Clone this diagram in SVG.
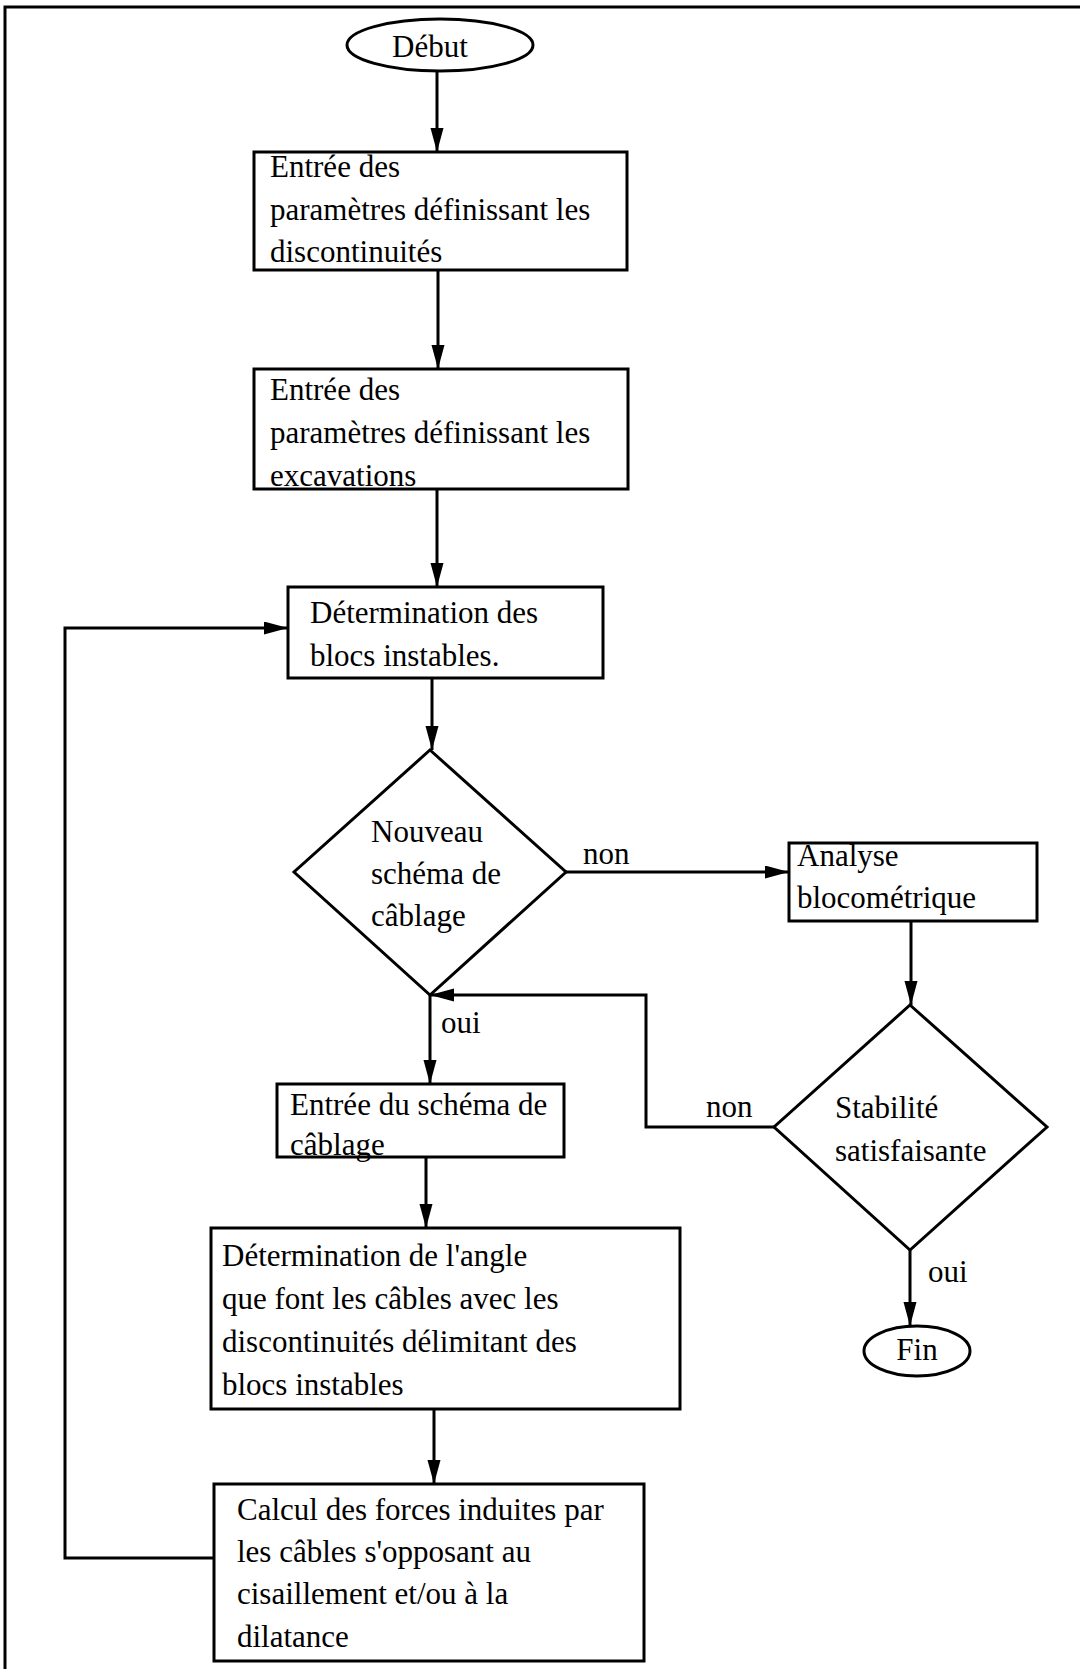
<svg xmlns="http://www.w3.org/2000/svg" width="1080" height="1669" viewBox="0 0 1080 1669">
<style>
.b{fill:#fff;stroke:#000;stroke-width:3}
.t{font-family:"Liberation Serif","Times New Roman",serif;font-size:31px;fill:#000}
.c{fill:none;stroke:#000;stroke-width:3}
</style>
<defs>
<marker id="ah" markerUnits="userSpaceOnUse" markerWidth="26" markerHeight="14" refX="24" refY="6.5" orient="auto">
<path d="M0,0 L24,6.5 L0,13 Z" fill="#000"/>
</marker>
</defs>
<rect width="1080" height="1669" fill="#fff"/>
<g id="frame"><path d="M5,1669 V7 H1080" fill="none" stroke="#000" stroke-width="3"/></g>
<g id="connectors">
<path class="c" d="M437,72 V152" marker-end="url(#ah)"/>
<path class="c" d="M438,270 V369" marker-end="url(#ah)"/>
<path class="c" d="M437,489 V587" marker-end="url(#ah)"/>
<path class="c" d="M432,678 V750" marker-end="url(#ah)"/>
<path class="c" d="M566,872 H789" marker-end="url(#ah)"/>
<path class="c" d="M911,921 V1005" marker-end="url(#ah)"/>
<path class="c" d="M775,1127 H646 V995 H430" marker-end="url(#ah)"/>
<path class="c" d="M430,995 V1084" marker-end="url(#ah)"/>
<path class="c" d="M426,1157 V1228" marker-end="url(#ah)"/>
<path class="c" d="M434,1410 V1484" marker-end="url(#ah)"/>
<path class="c" d="M214,1558 H65 V628 H288" marker-end="url(#ah)"/>
<path class="c" d="M910,1250 V1326" marker-end="url(#ah)"/>
<text class="t" x="583" y="864">non</text>
<text class="t" x="706" y="1117">non</text>
<text class="t" x="441" y="1033">oui</text>
<text class="t" x="928" y="1282">oui</text>
</g>
<g id="debut">
<ellipse class="b" cx="440" cy="45" rx="93" ry="26"/>
<text class="t" x="430" y="57" text-anchor="middle">Début</text>
</g>
<g id="box1">
<rect class="b" x="254" y="152" width="373" height="118"/>
<text class="t" x="270" y="177">Entrée des</text>
<text class="t" x="270" y="220">paramètres définissant les</text>
<text class="t" x="270" y="262">discontinuités</text>
</g>
<g id="box2">
<rect class="b" x="254" y="369" width="374" height="120"/>
<text class="t" x="270" y="400">Entrée des</text>
<text class="t" x="270" y="443">paramètres définissant les</text>
<text class="t" x="270" y="486">excavations</text>
</g>
<g id="box3">
<rect class="b" x="288" y="587" width="315" height="91"/>
<text class="t" x="310" y="623">Détermination des</text>
<text class="t" x="310" y="666">blocs instables.</text>
</g>
<g id="decision1">
<polygon class="b" points="430,750 566,872 430,995 294,872"/>
<text class="t" x="371" y="842">Nouveau</text>
<text class="t" x="371" y="884">schéma de</text>
<text class="t" x="371" y="926">câblage</text>
</g>
<g id="analyse">
<rect class="b" x="789" y="843" width="248" height="78"/>
<text class="t" x="797" y="866">Analyse</text>
<text class="t" x="797" y="908">blocométrique</text>
</g>
<g id="decision2">
<polygon class="b" points="910,1005 1047,1127 910,1250 774,1127"/>
<text class="t" x="835" y="1118">Stabilité</text>
<text class="t" x="835" y="1161">satisfaisante</text>
</g>
<g id="fin">
<ellipse class="b" cx="917" cy="1351" rx="53" ry="25"/>
<text class="t" x="917" y="1360" text-anchor="middle">Fin</text>
</g>
<g id="box4">
<rect class="b" x="277" y="1084" width="287" height="73"/>
<text class="t" x="290" y="1115">Entrée du schéma de</text>
<text class="t" x="290" y="1155">câblage</text>
</g>
<g id="box5">
<rect class="b" x="211" y="1228" width="469" height="181"/>
<text class="t" x="222" y="1266">Détermination de l'angle</text>
<text class="t" x="222" y="1309">que font les câbles avec les</text>
<text class="t" x="222" y="1352">discontinuités délimitant des</text>
<text class="t" x="222" y="1395">blocs instables</text>
</g>
<g id="box6">
<rect class="b" x="214" y="1484" width="430" height="177"/>
<text class="t" x="237" y="1520">Calcul des forces induites par</text>
<text class="t" x="237" y="1562">les câbles s'opposant au</text>
<text class="t" x="237" y="1604">cisaillement et/ou à la</text>
<text class="t" x="237" y="1647">dilatance</text>
</g>
</svg>
